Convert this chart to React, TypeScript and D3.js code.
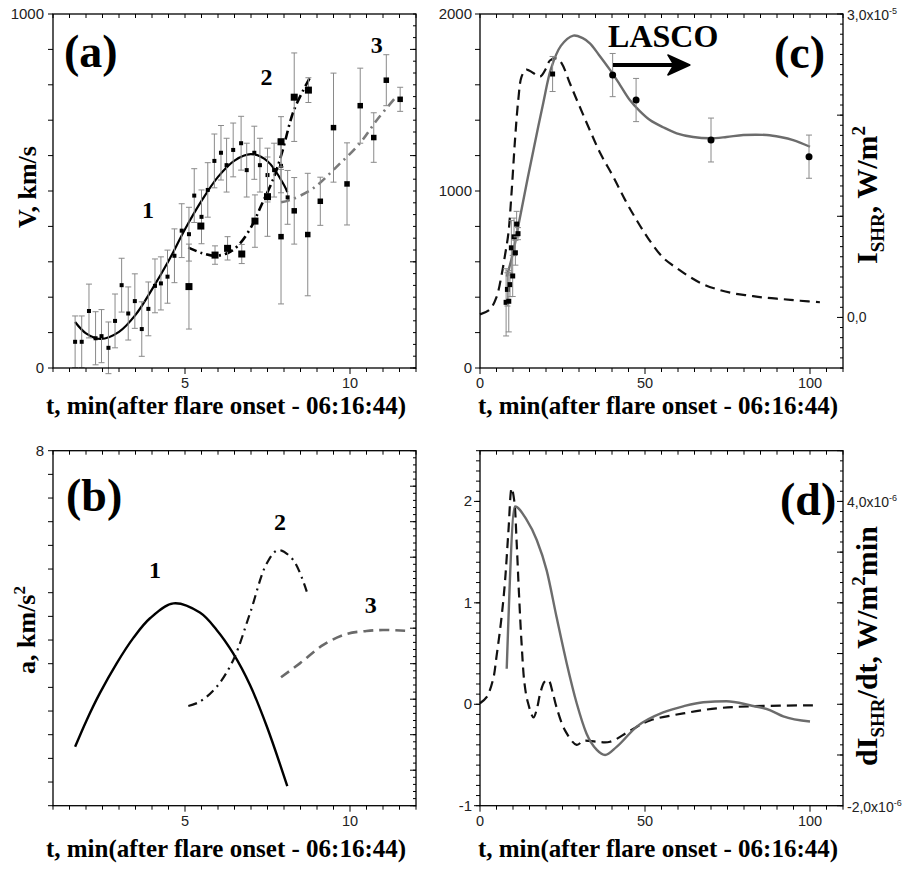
import React from "react";
import * as d3 from "d3";

// ---------------- Panel (a): velocity data ----------------
const velT1 = [1.67, 1.87, 2.09, 2.29, 2.47, 2.68, 2.88, 3.08, 3.28, 3.48, 3.69, 3.89, 4.09, 4.27, 4.47, 4.68, 4.9, 5.12, 5.28, 5.5, 5.69, 5.89, 6.09, 6.26, 6.46, 6.7, 6.87, 7.1, 7.27, 7.5, 7.7, 7.91, 8.11];
const velV1 = [74, 74, 161, 84, 90, 57, 133, 234, 154, 189, 110, 167, 232, 239, 258, 317, 388, 378, 487, 427, 503, 585, 608, 573, 616, 635, 559, 608, 573, 545, 559, 571, 482];
const velE1 = [73, 73, 76, 75, 75, 73, 76, 76, 75, 77, 77, 76, 76, 75, 75, 76, 76, 76, 76, 76, 77, 76, 77, 76, 76, 76, 76, 75, 76, 76, 76, 76, 76];

const velT2 = [5.12, 5.48, 5.91, 6.29, 6.72, 7.12, 7.5, 7.91, 8.31, 8.74];
const velV2 = [230, 401, 319, 338, 322, 415, 484, 639, 765, 785];
const velE2 = [120, 0, 26, 33, 27, 74, 112, 71, 125, 35];

const velT3 = [7.91, 8.31, 8.72, 9.1, 9.5, 9.91, 10.31, 10.72, 11.1, 11.52];
const velV3 = [371, 444, 377, 471, 679, 520, 741, 651, 813, 759];
const velE3 = [190, 94, 173, 68, 154, 116, 106, 70, 72, 34];

const fitVT1 = [1.67, 2.0, 2.45, 3.0, 3.5, 4.0, 4.5, 5.0, 5.5, 6.0, 6.5, 7.0, 7.5, 8.0, 8.1];
const fitVV1 = [130, 98, 82, 102, 150, 222, 302, 392, 472, 540, 586, 604, 584, 517, 497];
const fitVT2 = [5.1, 5.5, 5.9, 6.3, 6.6, 7.0, 7.3, 7.7, 7.95, 8.3, 8.79];
const fitVV2 = [340, 325, 317, 325, 345, 397, 457, 540, 612, 728, 821];
const fitVT3 = [7.91, 8.23, 8.89, 9.6, 10.3, 10.81, 11.36];
const fitVV3 = [468, 476, 508, 569, 635, 700, 762];

// ---------------- Panel (b): acceleration ----------------
const accT1 = [1.67, 2.02, 2.42, 2.93, 3.43, 3.94, 4.65, 5.45, 5.96, 6.46, 6.97, 7.48, 8.1];
const accA1 = [-0.34, 0.41, 1.17, 2.01, 2.72, 3.28, 3.7, 3.44, 2.95, 2.29, 1.4, 0.23, -1.45];
const accT2 = [5.1, 5.45, 5.96, 6.46, 6.97, 7.48, 7.83, 8.28, 8.69];
const accA2 = [0.81, 0.93, 1.35, 2.1, 3.42, 4.83, 5.2, 4.92, 4.03];
const accT3 = [7.91, 8.48, 9.19, 9.9, 10.5, 11.0, 11.67];
const accA3 = [1.62, 2.01, 2.53, 2.84, 2.92, 2.95, 2.93];

// ---------------- Panel (c): velocity + SXR flux ----------------
const cExtraT = [22];
const cExtraV = [1661];
const cExtraE = [99];
const lascoT = [40.2, 47.3, 70, 99.7];
const lascoV = [1655, 1514, 1288, 1194];
const lascoE = [122, 122, 124, 122];
const cFitT = [8.1, 10, 12, 14, 16.2, 19.2, 21.5, 24.5, 28.3, 31, 33.3, 36, 39.4, 42.4, 45.4, 48.5, 51.5, 55.5, 59.6, 64.6, 69.7, 74.7, 79.8, 86.9, 91, 94.9, 100];
const cFitV = [516, 650, 840, 1030, 1232, 1500, 1690, 1820, 1878, 1865, 1834, 1770, 1684, 1600, 1514, 1450, 1401, 1360, 1326, 1305, 1298, 1305, 1316, 1316, 1305, 1288, 1250];
const sxrT = [0, 3, 5, 6.6, 7.6, 8.6, 9.6, 10.6, 11.6, 12.6, 14, 16, 18.2, 20, 21.2, 23.3, 24.8, 27.3, 30, 33.3, 36.5, 40.4, 44, 47.5, 51, 55.5, 59.5, 63.6, 67.5, 71.7, 76.5, 81.8, 86.5, 91.9, 97, 103];
const sxrI = [0.03, 0.08, 0.2, 0.43, 0.62, 0.83, 1.25, 1.75, 2.15, 2.38, 2.45, 2.42, 2.38, 2.46, 2.54, 2.56, 2.51, 2.31, 2.1, 1.85, 1.62, 1.39, 1.16, 0.96, 0.78, 0.59, 0.49, 0.4, 0.33, 0.28, 0.24, 0.215, 0.195, 0.18, 0.165, 0.15];

// ---------------- Panel (d): derivatives ----------------
const dFitT = [8.1, 10.6, 14.1, 17.2, 20.2, 23.2, 26.3, 29.3, 32.3, 35.4, 37.9, 41.4, 47.5, 55.5, 61.6, 67.7, 74.7, 81.8, 88, 91.9, 100];
const dFitV = [0.35, 1.95, 1.82, 1.62, 1.32, 0.86, 0.4, 0.01, -0.29, -0.45, -0.5, -0.42, -0.22, -0.08, -0.02, 0.02, 0.03, -0.01, -0.06, -0.12, -0.17];
const dSxrT = [0, 2, 4, 5, 6.5, 7.6, 8.6, 9.6, 10.4, 11.1, 11.8, 12.6, 13.5, 14.5, 16.2, 17.2, 18.2, 19.5, 20.7, 22, 23.2, 25.8, 29.3, 31.4, 35.4, 39.4, 45.5, 51.5, 61.6, 71.7, 81.8, 102];
const dSxrV = [0.01, 0.07, 0.25, 0.47, 0.85, 1.22, 1.7, 2.13, 2.0, 1.6, 1.1, 0.6, 0.2, 0.02, -0.13, -0.05, 0.1, 0.22, 0.24, 0.12, -0.03, -0.26, -0.4, -0.36, -0.37, -0.37, -0.26, -0.16, -0.09, -0.04, -0.02, -0.01];

// ---------------- Tick / label values ----------------
const tickLabelsA_X = [5, 10];
const tickLabelsA_Y = [0, 1000];
const tickLabelsB_Y = [8];
const tickLabelsC_X = [0, 50, 100];
const tickLabelsC_Y = [0, 1000, 2000];
const tickLabelsD_Y = [-1, 0, 1, 2];
const xTitle = "t, min(after flare onset - 06:16:44)";

const SANS = "'Liberation Sans', Arial, sans-serif";
const SERIF = "'Liberation Serif', 'Times New Roman', serif";
const GRAY = "#6c6c6c";
const ERR = "#8a8a8a";

type Sc = d3.ScaleLinear<number, number>;

const zip = (a: number[], b: number[]) => a.map((v, i) => [v, b[i]] as [number, number]);
const rangeN = (a: number, b: number, s: number) => {
  const out: number[] = [];
  for (let v = a; v <= b + s * 1e-6; v += s) out.push(+v.toFixed(10));
  return out;
};
const tX = (s: Sc, vals: number[], y: number, len: number) => vals.map((v) => `M${s(v)},${y}v${len}`).join("");
const tY = (s: Sc, vals: number[], x: number, len: number) => vals.map((v) => `M${x},${s(v)}h${len}`).join("");

function ErrPoints({ xs, ys, t, v, e, size, shape = "square" }: { xs: Sc; ys: Sc; t: number[]; v: number[]; e: number[]; size: number; shape?: string }) {
  return (
    <g>
      {t.map((tt, i) => {
        const cx = xs(tt);
        const cy = ys(v[i]);
        const top = ys(v[i] + e[i]);
        const bot = ys(v[i] - e[i]);
        return (
          <g key={i}>
            {e[i] > 0 && (
              <path d={`M${cx},${top}V${bot}M${cx - 3},${top}h6M${cx - 3},${bot}h6`} stroke={ERR} strokeWidth={1} fill="none" />
            )}
            {shape === "square" ? (
              <rect x={cx - size / 2} y={cy - size / 2} width={size} height={size} fill="#000" />
            ) : (
              <circle cx={cx} cy={cy} r={size / 2} fill="#000" />
            )}
          </g>
        );
      })}
    </g>
  );
}

function Curve({ xs, ys, t, v, stroke, width = 2, dash, curve }: { xs: Sc; ys: Sc; t: number[]; v: number[]; stroke: string; width?: number; dash?: string; curve?: any }) {
  const gen = d3
    .line<[number, number]>()
    .x((d) => xs(d[0]))
    .y((d) => ys(d[1]))
    .curve(curve || d3.curveCatmullRom.alpha(0.5));
  return <path d={gen(zip(t, v)) || ""} fill="none" stroke={stroke} strokeWidth={width} strokeDasharray={dash} strokeLinecap="butt" strokeLinejoin="round" />;
}

function Frame({ xs, ys }: { xs: Sc; ys: Sc }) {
  const [x0, x1] = xs.range();
  const [y1, y0] = ys.range();
  return <rect x={x0} y={y0} width={x1 - x0} height={y1 - y0} fill="none" stroke="#000" strokeWidth={1.3} />;
}

function Ticks({ d }: { d: string }) {
  return <path d={d} stroke="#000" strokeWidth={1} fill="none" />;
}

function XTitle({ x, y }: { x: number; y: number }) {
  return (
    <text x={x} y={y} textAnchor="middle" fontFamily={SERIF} fontWeight="bold" fontSize={25} fill="#000">
      {xTitle}
    </text>
  );
}

export default function App() {
  // Scales
  const xA = d3.scaleLinear().domain([1, 12]).range([53, 416]);
  const yA = d3.scaleLinear().domain([0, 1000]).range([368, 14]);
  const xC = d3.scaleLinear().domain([0, 110]).range([480, 843]);
  const yC = d3.scaleLinear().domain([0, 2000]).range([368, 14]);
  const yCr = d3.scaleLinear().domain([-0.5, 3.0]).range([368, 14]); // units of 1e-5
  const xB = d3.scaleLinear().domain([1, 12]).range([53, 416]);
  const yB = d3.scaleLinear().domain([-2, 8]).range([805.7, 450.7]);
  const xD = d3.scaleLinear().domain([0, 110]).range([480, 843]);
  const yD = d3.scaleLinear().domain([-1, 2.5]).range([805.7, 450.7]);
  const yDr = d3.scaleLinear().domain([-2, 5]).range([805.7, 450.7]); // units of 1e-6

  const lbl = { fontFamily: SANS, fontSize: 15, fill: "#222" } as const;
  const xl = { fontFamily: SANS, fontSize: 14.5, fill: "#222" } as const;
  const big = { fontFamily: SERIF, fontWeight: "bold", fill: "#000" } as const;

  // tick arrays
  const halfA = rangeN(1, 12, 0.5);
  const fiveC = rangeN(0, 110, 5);

  const arrowY = yC(1712);
  const arrowX0 = xC(40.3);
  const arrowX1 = xC(63.6);

  return (
    <svg width={909} height={869} style={{ position: "absolute", left: 0, top: 0, background: "#fff" }}>
      <rect x={0} y={0} width={909} height={869} fill="#fff" />

      {/* ================= Panel (a) ================= */}
      <Ticks
        d={
          tX(xA, halfA.filter((v) => v % 5 !== 0), 368, 4) +
          tX(xA, [5, 10], 368, 6) +
          tX(xA, halfA, 14, 4) +
          tY(yA, rangeN(0, 1000, 100), 53, -5) +
          tY(yA, rangeN(0, 1000, 100 / 3), 416, -3) +
          tY(yA, [0, 300, 600, 900], 416, -6)
        }
      />
      <Curve xs={xA} ys={yA} t={fitVT1} v={fitVV1} stroke="#000" width={2.2} />
      <Curve xs={xA} ys={yA} t={fitVT2} v={fitVV2} stroke="#000" width={2.6} dash="9,4,2,4" />
      <Curve xs={xA} ys={yA} t={fitVT3} v={fitVV3} stroke="#7a7a7a" width={2.6} dash="9,5,2,5" />
      <ErrPoints xs={xA} ys={yA} t={velT1} v={velV1} e={velE1} size={4} />
      <ErrPoints xs={xA} ys={yA} t={velT2} v={velV2} e={velE2} size={7} />
      <ErrPoints xs={xA} ys={yA} t={velT3} v={velV3} e={velE3} size={5.5} />
      <Frame xs={xA} ys={yA} />
      {tickLabelsA_X.map((v) => (
        <text key={v} x={xA(v)} y={387.5} textAnchor="middle" {...xl}>
          {v}
        </text>
      ))}
      {tickLabelsA_Y.map((v) => (
        <text key={v} x={44} y={yA(v) + 5} textAnchor="end" {...lbl}>
          {v}
        </text>
      ))}
      <text x={xA(3.88)} y={yA(424)} textAnchor="middle" fontSize={24} {...big}>1</text>
      <text x={xA(7.47)} y={yA(799)} textAnchor="middle" fontSize={24} {...big}>2</text>
      <text x={xA(10.81)} y={yA(891)} textAnchor="middle" fontSize={24} {...big}>3</text>
      <text x={64} y={67} fontSize={46} {...big}>(a)</text>
      <text transform="translate(36,187) rotate(-90)" textAnchor="middle" fontSize={26} {...big}>V, km/s</text>
      <XTitle x={226} y={413.5} />

      {/* ================= Panel (c) ================= */}
      <Ticks
        d={
          tX(xC, fiveC.filter((v) => v % 50 !== 0), 368, 4) +
          tX(xC, [0, 50, 100], 368, 6) +
          tX(xC, fiveC, 14, 4) +
          tY(yC, rangeN(0, 2000, 200), 480, -5) +
          tY(yCr, rangeN(-0.5, 3.0, 0.1), 843, -3) +
          tY(yCr, [0, 1, 2, 3], 843, -6)
        }
      />
      <Curve xs={xC} ys={yCr} t={sxrT} v={sxrI} stroke="#111" width={2.2} dash="10,6" />
      <Curve xs={xC} ys={yC} t={cFitT} v={cFitV} stroke={GRAY} width={2.4} />
      <ErrPoints xs={xC} ys={yC} t={velT3} v={velV3} e={velE3} size={5} />
      <ErrPoints xs={xC} ys={yC} t={cExtraT} v={cExtraV} e={cExtraE} size={5} />
      <ErrPoints xs={xC} ys={yC} t={lascoT} v={lascoV} e={lascoE} size={7} shape="circle" />
      <Frame xs={xC} ys={yC} />
      {tickLabelsC_X.map((v) => (
        <text key={v} x={xC(v)} y={387.5} textAnchor="middle" {...xl}>
          {v}
        </text>
      ))}
      {tickLabelsC_Y.map((v) => (
        <text key={v} x={472} y={yC(v) + 5} textAnchor="end" {...lbl}>
          {v}
        </text>
      ))}
      <text x={847} y={yCr(3) + 6} {...lbl} fontSize={14}>
        3,0x10<tspan dy={-6} fontSize={9}>-5</tspan>
      </text>
      <text x={847} y={yCr(0) + 5} {...lbl} fontSize={14}>0,0</text>
      <text x={xC(38.8)} y={yC(1814)} fontSize={32} {...big}>LASCO</text>
      <line x1={arrowX0} y1={arrowY} x2={arrowX1 - 10} y2={arrowY} stroke="#000" strokeWidth={4} />
      <path d={`M${arrowX1},${arrowY}L${arrowX1 - 22},${arrowY - 10}L${arrowX1 - 16},${arrowY}L${arrowX1 - 22},${arrowY + 10}Z`} fill="#000" stroke="#000" strokeWidth={1.5} strokeLinejoin="round" />
      <text x={774} y={68} fontSize={46} {...big}>(c)</text>
      <text transform="translate(877,195) rotate(-90)" textAnchor="middle" fontSize={30} {...big}>
        I<tspan dy={7} fontSize={19}>SHR</tspan>
        <tspan dy={-7} fontSize={30}>, W/m</tspan>
        <tspan dy={-12} fontSize={19}>2</tspan>
      </text>
      <XTitle x={658} y={413.5} />

      {/* ================= Panel (b) ================= */}
      <Ticks
        d={
          tX(xB, halfA.filter((v) => v % 5 !== 0), 805.7, 4) +
          tX(xB, [5, 10], 805.7, 6) +
          tX(xB, halfA, 450.7, 4) +
          tY(yB, rangeN(0, 15, 1).map((i) => -2 + (i * 10) / 15), 53, -5) +
          tY(yB, rangeN(-2, 8, 0.2), 416, -3) +
          tY(yB, rangeN(-2, 8, 1), 416, -6)
        }
      />
      <Curve xs={xB} ys={yB} t={accT1} v={accA1} stroke="#000" width={2.4} />
      <Curve xs={xB} ys={yB} t={accT2} v={accA2} stroke="#111" width={2.2} dash="9,5,2,5" />
      <Curve xs={xB} ys={yB} t={accT3} v={accA3} stroke="#6a6a6a" width={2.6} dash="10,6" />
      <Frame xs={xB} ys={yB} />
      {tickLabelsA_X.map((v) => (
        <text key={v} x={xB(v)} y={826} textAnchor="middle" {...xl}>
          {v}
        </text>
      ))}
      {tickLabelsB_Y.map((v) => (
        <text key={v} x={44} y={yB(v) + 5} textAnchor="end" {...lbl}>
          {v}
        </text>
      ))}
      <text x={xB(4.09)} y={yB(4.41)} textAnchor="middle" fontSize={24} {...big}>1</text>
      <text x={xB(7.88)} y={yB(5.77)} textAnchor="middle" fontSize={24} {...big}>2</text>
      <text x={xB(10.63)} y={yB(3.42)} textAnchor="middle" fontSize={24} {...big}>3</text>
      <text x={66} y={511} fontSize={46} {...big}>(b)</text>
      <text transform="translate(35,630) rotate(-90)" textAnchor="middle" fontSize={26} {...big}>
        a, km/s<tspan dy={-10} fontSize={17}>2</tspan>
      </text>
      <XTitle x={226} y={857} />

      {/* ================= Panel (d) ================= */}
      <Ticks
        d={
          tX(xD, fiveC.filter((v) => v % 50 !== 0), 805.7, 4) +
          tX(xD, [0, 50, 100], 805.7, 6) +
          tX(xD, fiveC, 450.7, 4) +
          tY(yD, rangeN(-1, 2.5, 0.1), 480, -4) +
          tY(yD, [-1, 0, 1, 2], 480, -6) +
          tY(yDr, rangeN(-2, 5, 0.2), 843, -3) +
          tY(yDr, rangeN(-2, 5, 1), 843, -6)
        }
      />
      <Curve xs={xD} ys={yD} t={dSxrT} v={dSxrV} stroke="#111" width={2.2} dash="10,6" />
      <Curve xs={xD} ys={yD} t={dFitT} v={dFitV} stroke={GRAY} width={2.4} curve={d3.curveMonotoneX} />
      <Frame xs={xD} ys={yD} />
      {tickLabelsC_X.map((v) => (
        <text key={v} x={xD(v)} y={826} textAnchor="middle" {...xl}>
          {v}
        </text>
      ))}
      {tickLabelsD_Y.map((v) => (
        <text key={v} x={472} y={yD(v) + 5} textAnchor="end" {...lbl}>
          {v}
        </text>
      ))}
      <text x={847} y={yDr(4) + 6} {...lbl} fontSize={14}>
        4,0x10<tspan dy={-6} fontSize={9}>-6</tspan>
      </text>
      <text x={847} y={yDr(-2) + 6} {...lbl} fontSize={14}>
        -2,0x10<tspan dy={-6} fontSize={9}>-6</tspan>
      </text>
      <text x={780} y={515} fontSize={46} {...big}>(d)</text>
      <text transform="translate(877,646) rotate(-90)" textAnchor="middle" fontSize={30} {...big}>
        dI<tspan dy={7} fontSize={19}>SHR</tspan>
        <tspan dy={-7} fontSize={30}>/dt, W/m</tspan>
        <tspan dy={-12} fontSize={19}>2</tspan>
        <tspan dy={12} fontSize={30}>min</tspan>
      </text>
      <XTitle x={658} y={857} />
    </svg>
  );
}
